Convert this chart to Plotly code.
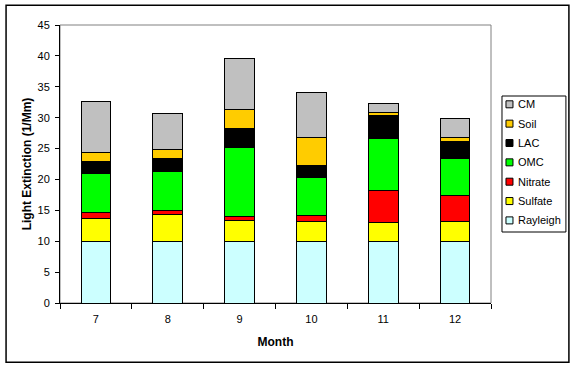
import plotly.graph_objects as go

months = ["7", "8", "9", "10", "11", "12"]
rayleigh = [10.0, 10.0, 10.0, 10.0, 10.0, 10.0]
sulfate = [3.7, 4.4, 3.3, 3.15, 3.0, 3.15]
nitrate = [0.9, 0.55, 0.7, 1.0, 5.2, 4.2]
omc = [6.3, 6.35, 11.25, 6.1, 8.35, 6.1]
lac = [2.0, 2.1, 3.0, 2.05, 3.85, 2.7]
soil = [1.4, 1.4, 3.1, 4.5, 0.45, 0.7]
cm = [8.3, 5.85, 8.15, 7.3, 1.45, 3.0]

series = [
    ("Rayleigh", rayleigh, "#CCFFFF"),
    ("Sulfate", sulfate, "#FFFF00"),
    ("Nitrate", nitrate, "#FF0000"),
    ("OMC", omc, "#00FF00"),
    ("LAC", lac, "#000000"),
    ("Soil", soil, "#FFCC00"),
    ("CM", cm, "#C0C0C0"),
]

W, H = 575, 368
L, R, T, B = 59.5, 491, 24.7, 302.7

fig = go.Figure()
for name, vals, col in series:
    fig.add_trace(go.Bar(x=months, y=vals, name=name, showlegend=False,
                         marker=dict(color=col, line=dict(color="black", width=1))))

pw, ph = R - L, B - T
def px(x):
    return (x - L) / pw
def py(y):
    return (B - y) / ph

shapes = [
    dict(type="rect", xref="paper", yref="paper", x0=0, x1=1, y0=0, y1=1,
         line=dict(color="#808080", width=1), layer="below"),
    dict(type="rect", xref="paper", yref="paper", x0=px(5.5), x1=px(569), y0=py(5), y1=py(362),
         line=dict(color="black", width=1.5), layer="above"),
    dict(type="rect", xref="paper", yref="paper", x0=px(502), x1=px(566), y0=py(95.7), y1=py(231.7),
         line=dict(color="black", width=1), fillcolor="white", layer="above"),
]
annotations = []
leg_top = 104.0
step = 19.35
for i, (name, vals, col) in enumerate(reversed(series)):
    yc = leg_top + i * step
    shapes.append(dict(type="rect", xref="paper", yref="paper",
                       x0=px(506), x1=px(513), y0=py(yc - 3.5), y1=py(yc + 3.5),
                       fillcolor=col, line=dict(color="black", width=1), layer="above"))
    annotations.append(dict(text=name, xref="paper", yref="paper", x=px(516), y=py(yc),
                            xanchor="left", yanchor="middle", showarrow=False,
                            font=dict(size=11, color="black")))

fig.update_layout(
    width=W, height=H,
    margin=dict(l=L, r=W - R, t=T, b=H - B, pad=0),
    paper_bgcolor="white", plot_bgcolor="white",
    barmode="stack", bargap=0.585,
    font=dict(family="Liberation Sans, Arial", size=11, color="black"),
    showlegend=False,
    xaxis=dict(type="category", showline=True, linecolor="black", linewidth=1,
               ticks="outside", tickson="boundaries", ticklen=5, tickcolor="black",
               showgrid=False, ticklabelstandoff=6,
               title=dict(text="<b>Month</b>", font=dict(size=12), standoff=13)),
    yaxis=dict(range=[0, 45], dtick=5, showline=True, linecolor="black", linewidth=1,
               ticks="outside", ticklen=4, tickcolor="black", showgrid=False, zeroline=False,
               ticklabelstandoff=3,
               title=dict(text="<b>Light Extinction (1/Mm)</b>", font=dict(size=12), standoff=3)),
    shapes=shapes,
    annotations=annotations,
)

fig.write_html("out.html", config={"displayModeBar": False},
               post_script="document.body.style.margin='0';")
